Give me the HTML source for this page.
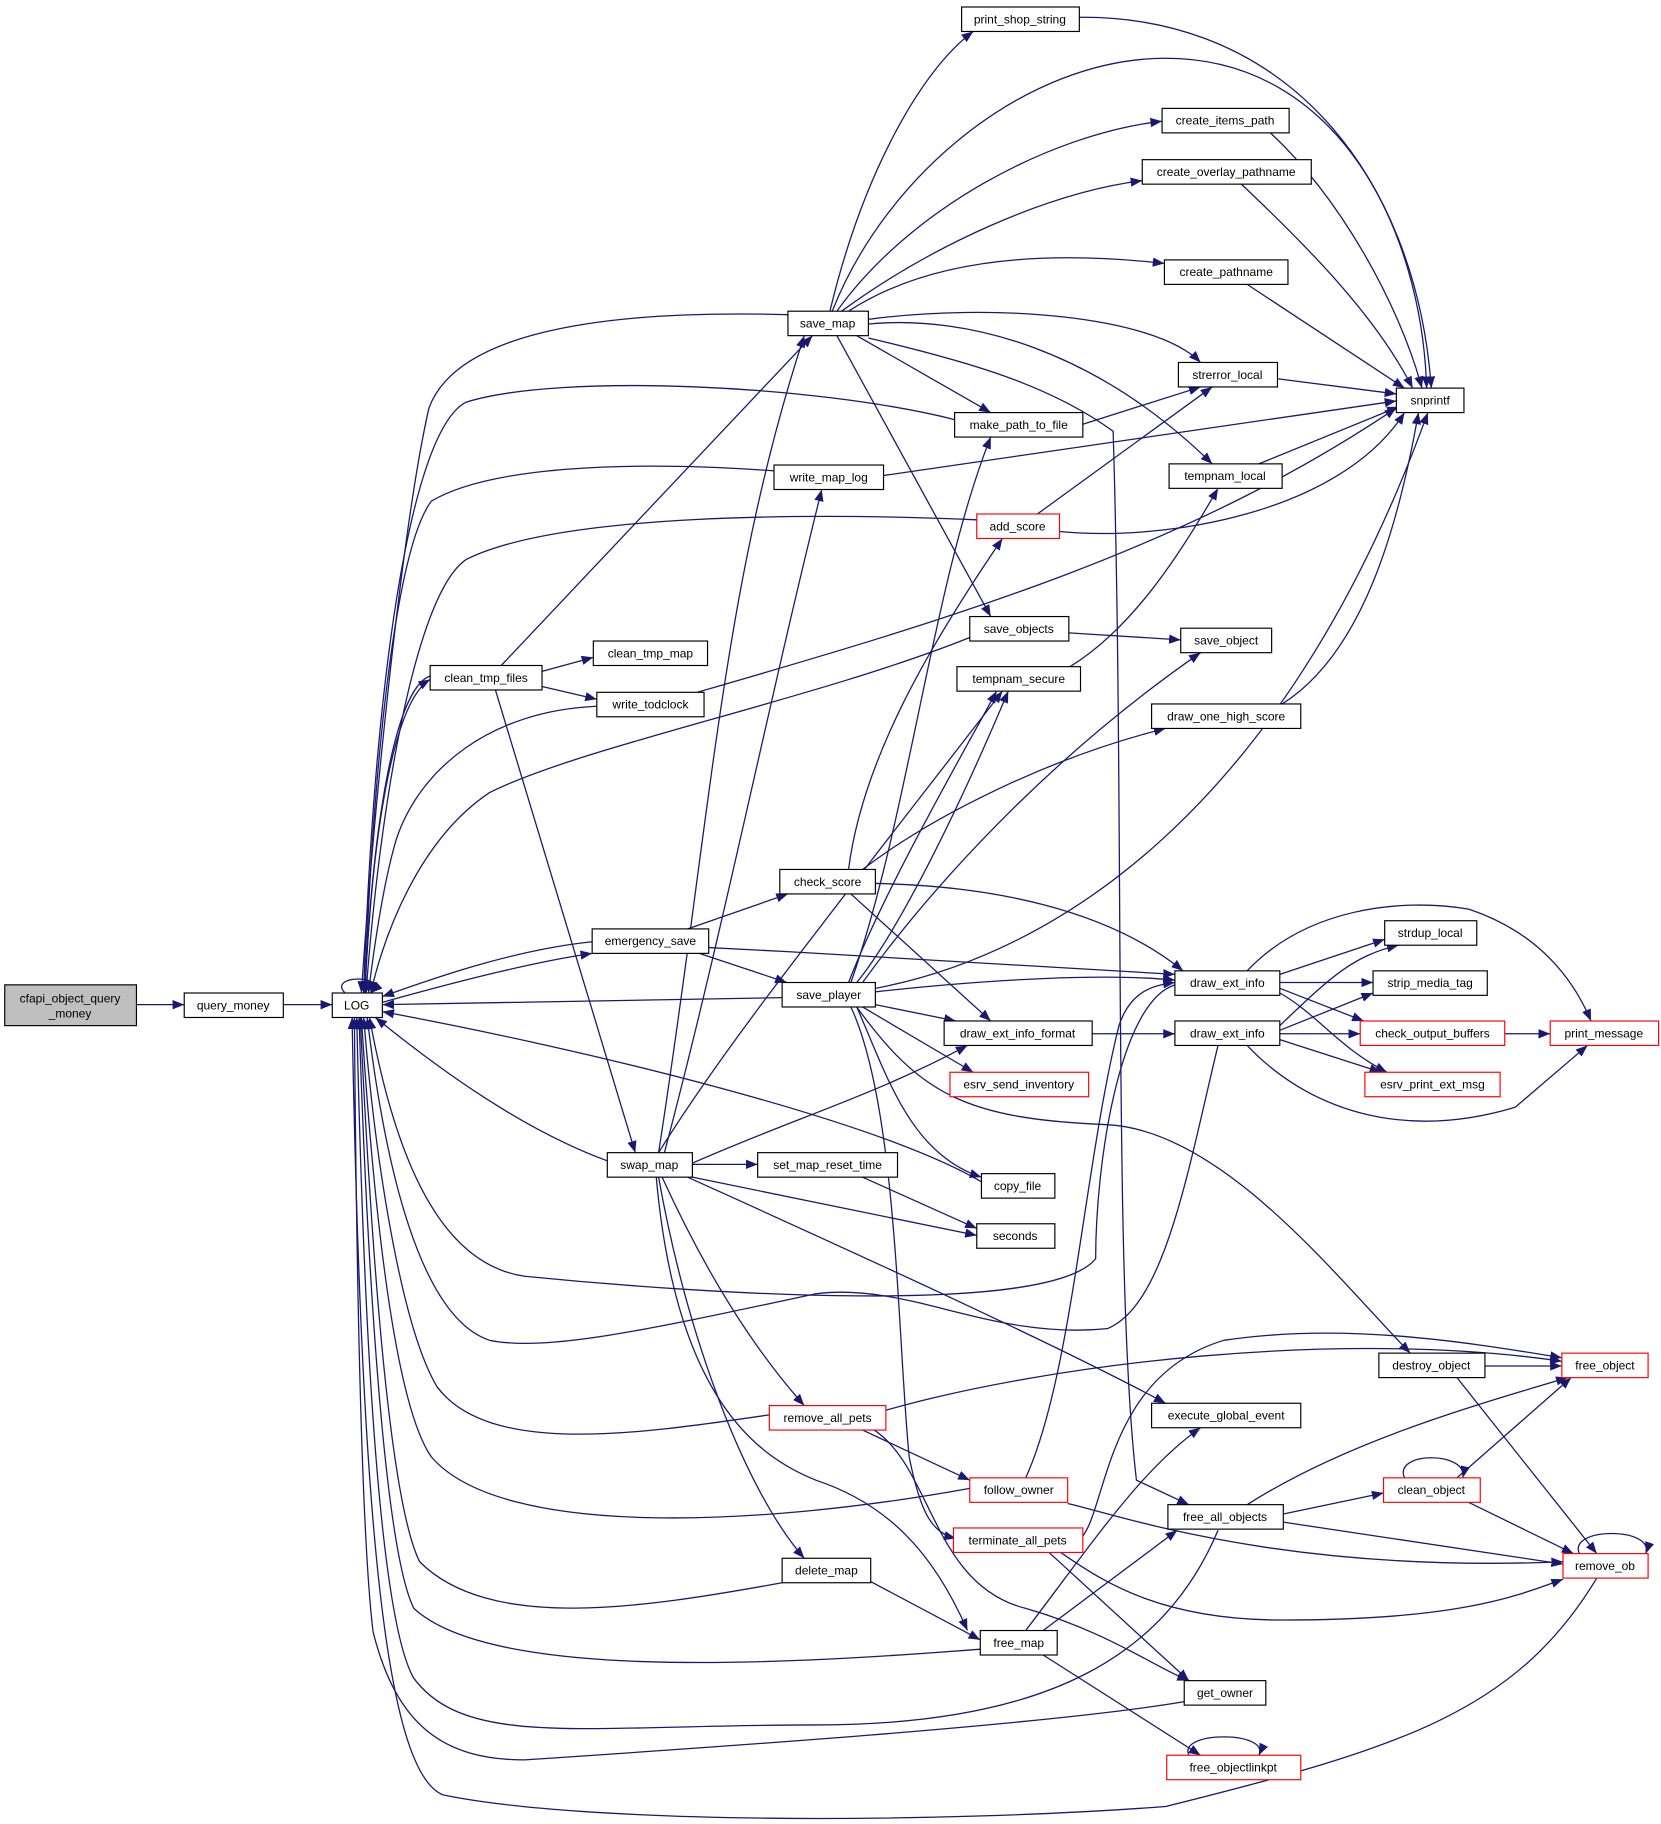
<!DOCTYPE html>
<html><head><meta charset="utf-8"><style>
html,body{margin:0;padding:0;background:#fff}
svg{display:block}
text{font-family:"Liberation Sans",sans-serif;font-size:10.3px;text-anchor:middle;fill:#000}
.e{fill:none;stroke:#191970;stroke-width:1.1}
.n{fill:#fff;stroke:#000;stroke-width:1}
.r{fill:#fff;stroke:#ff0000;stroke-width:1}
</style></head><body>
<svg width="1661" height="1824" viewBox="0 0 1425 1565" xmlns="http://www.w3.org/2000/svg">
<defs><marker id="a" markerUnits="userSpaceOnUse" markerWidth="11" markerHeight="8" refX="10" refY="4" orient="auto"><path d="M0,0 L10,4 L0,8 z" fill="#191970"/></marker></defs>
<g class="e" marker-end="url(#a)">
<path d="M117,862 L158,862"/>
<path d="M243,862 L285,862"/>
<path d="M296,852 C280,836 335,836 318,852"/>
<!-- save_map -->
<path d="M712,267 C740,150 790,60 835,27"/>
<path d="M714,267 C760,150 880,50 1000,50 C1150,50 1220,200 1224,333"/>
<path d="M718,267 C780,180 900,115 997,104"/>
<path d="M722,267 C800,210 900,165 980,155"/>
<path d="M728,267 C800,220 900,215 999,226"/>
<path d="M745,274 C850,260 990,270 1030,311"/>
<path d="M745,278 C830,270 940,300 1040,398"/>
<path d="M735,288 L850,354"/>
<path d="M745,290 C830,310 900,330 955,370 C965,700 955,1100 975,1270 L1020,1291"/>
<path d="M718,288 L850,529"/>
<path d="M676,270 C500,265 390,290 368,350 C345,450 320,700 310,852"/>
<!-- to snprintf -->
<path d="M900,16 C1100,0 1215,150 1228,333"/>
<path d="M1090,114 C1150,170 1200,260 1220,333"/>
<path d="M1065,158 C1120,210 1180,270 1212,333"/>
<path d="M1070,244 L1205,333"/>
<path d="M1096,325 L1198,338"/>
<path d="M1080,398 L1200,349"/>
<path d="M909,456 C1000,465 1150,440 1205,354"/>
<path d="M1100,604 C1170,560 1200,450 1217,354"/>
<path d="M758,408 L1198,344"/>
<path d="M929,364 L1030,332"/>
<path d="M890,441 L1040,332"/>
<path d="M917,543 L1013,549"/>
<path d="M918,572 C970,540 1010,480 1045,419"/>
<path d="M751,848 C900,820 1100,700 1225,354"/>
<!-- LOG incoming -->
<path d="M819,360 C700,330 480,320 400,345 C350,370 320,600 312,852"/>
<path d="M664,404 C540,395 420,400 370,430 C340,470 320,650 313,852"/>
<path d="M838,446 C700,440 480,440 400,480 C355,510 325,700 314,852"/>
<path d="M832,547 C700,600 500,640 420,680 C360,720 330,800 318,852"/>
<path d="M598,594 C820,530 1020,470 1198,350"/>
<path d="M512,606 C420,610 360,660 340,720 C328,760 320,820 316,852"/>
<path d="M369,580 C340,590 320,700 313,852" marker-end="none"/>
<path d="M313,852 C320,700 340,600 369,583"/>
<path d="M508,808 C440,815 370,840 328,855"/>
<path d="M328,860 C400,840 460,825 508,818"/>
<path d="M671,856 L328,862"/>
<path d="M521,996 C450,970 380,920 322,873"/>
<path d="M842,1014 C750,960 500,900 328,868"/>
<path d="M1008,845 C960,860 940,1000 940,1080 C900,1130 600,1110 450,1095 C380,1085 340,1000 317,873"/>
<path d="M1045,897 C1020,1000 1000,1120 950,1140 C850,1150 780,1100 700,1110 C560,1140 470,1160 420,1150 C360,1130 330,1000 315,873"/>
<path d="M660,1214 C550,1230 420,1250 375,1190 C345,1140 322,1000 312,873"/>
<path d="M832,1277 C650,1310 430,1320 370,1250 C335,1200 318,1000 310,873"/>
<path d="M671,1358 C550,1380 420,1400 360,1340 C330,1280 315,1000 309,873"/>
<path d="M841,1415 C650,1430 420,1440 355,1380 C325,1320 312,1000 308,873"/>
<path d="M1045,1313 C1000,1420 900,1480 700,1480 C500,1480 400,1500 355,1440 C320,1380 310,1050 306,873"/>
<path d="M1016,1460 C900,1480 600,1500 450,1510 C380,1510 340,1480 320,1400 C308,1300 305,1000 304,873"/>
<path d="M1370,1354 C1300,1470 1200,1500 1000,1550 C800,1565 500,1565 380,1540 C330,1520 310,1300 302,873"/>
<!-- clean_tmp_files -->
<path d="M430,571 L697,288"/>
<path d="M465,576 L509,564"/>
<path d="M465,589 L512,600"/>
<path d="M425,592 L545,989"/>
<!-- check_score -->
<path d="M728,746 C740,650 800,550 860,462"/>
<path d="M740,746 C800,700 900,650 1000,625"/>
<path d="M751,758 C850,760 950,780 1015,833"/>
<path d="M730,767 L850,876"/>
<!-- emergency_save -->
<path d="M590,797 L676,767"/>
<path d="M608,813 C750,820 900,830 1008,836"/>
<path d="M600,818 L675,843"/>
<!-- save_player -->
<path d="M735,843 C770,800 820,700 865,593"/>
<path d="M740,843 C800,760 900,650 1030,560"/>
<path d="M730,843 C780,700 800,500 850,375"/>
<path d="M751,851 C850,840 950,835 1008,841"/>
<path d="M751,862 L820,876"/>
<path d="M740,864 L835,920"/>
<path d="M735,864 C760,920 780,990 842,1010"/>
<path d="M735,864 C790,940 830,960 950,965 C1050,970 1150,1100 1210,1161"/>
<path d="M730,864 C770,950 770,1150 780,1250 C790,1300 800,1315 820,1320"/>
<path d="M728,843 C760,760 830,640 855,593"/>
<!-- draw_ext_info -->
<path d="M937,887 L1008,887"/>
<path d="M1098,836 L1188,806"/>
<path d="M1098,843 L1178,843"/>
<path d="M1098,848 L1170,876"/>
<path d="M1098,852 C1130,870 1150,900 1190,920"/>
<path d="M1070,833 C1120,780 1200,770 1260,780 C1320,800 1350,840 1365,876"/>
<path d="M1098,880 C1140,840 1160,820 1200,811"/>
<path d="M1098,884 L1178,852"/>
<path d="M1098,887 L1167,887"/>
<path d="M1098,892 L1185,920"/>
<path d="M1070,897 C1120,950 1200,980 1300,950 L1362,897"/>
<path d="M1291,887 L1330,887"/>
<!-- swap_map -->
<path d="M565,989 C610,700 620,500 690,288"/>
<path d="M570,989 C620,800 660,600 705,420"/>
<path d="M594,999 L650,999"/>
<path d="M594,1010 L838,1060"/>
<path d="M594,998 C680,960 750,940 830,897"/>
<path d="M590,1010 C700,1060 900,1150 1000,1204"/>
<path d="M568,1010 C600,1080 640,1150 690,1206"/>
<path d="M565,1010 C590,1150 640,1280 690,1337"/>
<path d="M563,1010 C580,1200 650,1250 700,1270 C760,1290 800,1330 830,1399"/>
<path d="M565,989 C620,900 700,800 860,593"/>
<path d="M740,1010 L838,1054"/>
<!-- lower -->
<path d="M1274,1172 L1340,1172"/>
<path d="M1250,1182 L1370,1333"/>
<path d="M760,1210 C900,1170 1150,1140 1340,1168"/>
<path d="M740,1227 L832,1270"/>
<path d="M750,1227 C800,1260 800,1360 880,1380 C950,1400 990,1430 1020,1442"/>
<path d="M880,1268 C920,1180 930,1000 960,880 C970,850 990,845 1008,843"/>
<path d="M916,1290 C960,1300 1100,1350 1341,1340"/>
<path d="M929,1318 C950,1290 950,1180 1050,1150 C1150,1135 1250,1150 1340,1165"/>
<path d="M900,1332 L1020,1442"/>
<path d="M910,1332 C950,1360 1000,1390 1100,1390 C1250,1390 1300,1370 1341,1355"/>
<path d="M1101,1299 L1187,1281"/>
<path d="M1101,1306 L1341,1342"/>
<path d="M1070,1291 C1150,1240 1250,1210 1345,1182"/>
<path d="M1250,1268 L1348,1182"/>
<path d="M1260,1289 L1350,1333"/>
<path d="M1205,1268 C1195,1245 1260,1245 1255,1268"/>
<path d="M1355,1333 C1345,1310 1420,1310 1412,1333"/>
<path d="M747,1357 L841,1407"/>
<path d="M895,1399 L1010,1313"/>
<path d="M880,1399 C940,1320 980,1260 1030,1225"/>
<path d="M895,1420 L1030,1506"/>
<path d="M1020,1506 C1010,1485 1090,1485 1080,1506"/>
</g>
<g>
<rect x="4" y="845" width="113" height="35" fill="#bfbfbf" stroke="#000"/>
<text x="60" y="860">cfapi_object_query</text><text x="60" y="873">_money</text>
<g id="nodes"></g>
<rect class="n" x="158" y="852" width="85" height="21"/><text x="200" y="866">query_money</text>
<rect class="n" x="285" y="852" width="43" height="21"/><text x="306" y="866">LOG</text>
<rect class="n" x="825" y="6" width="101" height="21"/><text x="875" y="20">print_shop_string</text>
<rect class="n" x="997" y="93" width="109" height="21"/><text x="1051" y="107">create_items_path</text>
<rect class="n" x="980" y="137" width="145" height="21"/><text x="1052" y="151">create_overlay_pathname</text>
<rect class="n" x="999" y="223" width="106" height="21"/><text x="1052" y="237">create_pathname</text>
<rect class="n" x="676" y="267" width="69" height="21"/><text x="710" y="281">save_map</text>
<rect class="n" x="1011" y="311" width="85" height="21"/><text x="1053" y="325">strerror_local</text>
<rect class="n" x="1198" y="333" width="58" height="21"/><text x="1227" y="347">snprintf</text>
<rect class="n" x="819" y="354" width="110" height="21"/><text x="874" y="368">make_path_to_file</text>
<rect class="n" x="664" y="399" width="94" height="21"/><text x="711" y="413">write_map_log</text>
<rect class="n" x="1003" y="398" width="97" height="21"/><text x="1051" y="412">tempnam_local</text>
<rect class="r" x="838" y="441" width="71" height="21"/><text x="873" y="455">add_score</text>
<rect class="n" x="832" y="529" width="85" height="21"/><text x="874" y="543">save_objects</text>
<rect class="n" x="1013" y="539" width="78" height="21"/><text x="1052" y="553">save_object</text>
<rect class="n" x="509" y="550" width="98" height="21"/><text x="558" y="564">clean_tmp_map</text>
<rect class="n" x="369" y="571" width="96" height="21"/><text x="417" y="585">clean_tmp_files</text>
<rect class="n" x="512" y="594" width="92" height="21"/><text x="558" y="608">write_todclock</text>
<rect class="n" x="821" y="572" width="106" height="21"/><text x="874" y="586">tempnam_secure</text>
<rect class="n" x="988" y="604" width="128" height="21"/><text x="1052" y="618">draw_one_high_score</text>
<rect class="n" x="669" y="746" width="82" height="21"/><text x="710" y="760">check_score</text>
<rect class="n" x="1188" y="790" width="79" height="21"/><text x="1227" y="804">strdup_local</text>
<rect class="n" x="508" y="797" width="100" height="21"/><text x="558" y="811">emergency_save</text>
<rect class="n" x="1008" y="833" width="90" height="21"/><text x="1053" y="847">draw_ext_info</text>
<rect class="n" x="671" y="843" width="80" height="21"/><text x="711" y="857">save_player</text>
<rect class="n" x="1178" y="833" width="98" height="21"/><text x="1227" y="847">strip_media_tag</text>
<rect class="n" x="810" y="876" width="127" height="21"/><text x="873" y="890">draw_ext_info_format</text>
<rect class="n" x="1008" y="876" width="90" height="21"/><text x="1053" y="890">draw_ext_info</text>
<rect class="r" x="1167" y="876" width="124" height="21"/><text x="1229" y="890">check_output_buffers</text>
<rect class="r" x="1330" y="876" width="93" height="21"/><text x="1376" y="890">print_message</text>
<rect class="r" x="815" y="920" width="119" height="21"/><text x="874" y="934">esrv_send_inventory</text>
<rect class="r" x="1171" y="920" width="116" height="21"/><text x="1229" y="934">esrv_print_ext_msg</text>
<rect class="n" x="521" y="989" width="73" height="21"/><text x="557" y="1003">swap_map</text>
<rect class="n" x="650" y="989" width="120" height="21"/><text x="710" y="1003">set_map_reset_time</text>
<rect class="n" x="842" y="1007" width="63" height="21"/><text x="873" y="1021">copy_file</text>
<rect class="n" x="838" y="1050" width="67" height="21"/><text x="871" y="1064">seconds</text>
<rect class="n" x="1183" y="1161" width="91" height="21"/><text x="1228" y="1175">destroy_object</text>
<rect class="r" x="1340" y="1161" width="74" height="21"/><text x="1377" y="1175">free_object</text>
<rect class="n" x="988" y="1204" width="128" height="21"/><text x="1052" y="1218">execute_global_event</text>
<rect class="r" x="660" y="1206" width="100" height="21"/><text x="710" y="1220">remove_all_pets</text>
<rect class="r" x="832" y="1268" width="84" height="21"/><text x="874" y="1282">follow_owner</text>
<rect class="r" x="1187" y="1268" width="83" height="21"/><text x="1228" y="1282">clean_object</text>
<rect class="n" x="1002" y="1291" width="99" height="21"/><text x="1051" y="1305">free_all_objects</text>
<rect class="r" x="818" y="1311" width="111" height="21"/><text x="873" y="1325">terminate_all_pets</text>
<rect class="r" x="1341" y="1333" width="73" height="21"/><text x="1377" y="1347">remove_ob</text>
<rect class="n" x="671" y="1337" width="76" height="21"/><text x="709" y="1351">delete_map</text>
<rect class="n" x="841" y="1399" width="66" height="21"/><text x="874" y="1413">free_map</text>
<rect class="n" x="1016" y="1442" width="70" height="21"/><text x="1051" y="1456">get_owner</text>
<rect class="r" x="1001" y="1506" width="115" height="21"/><text x="1058" y="1520">free_objectlinkpt</text>
</g>
</svg>
</body></html>
